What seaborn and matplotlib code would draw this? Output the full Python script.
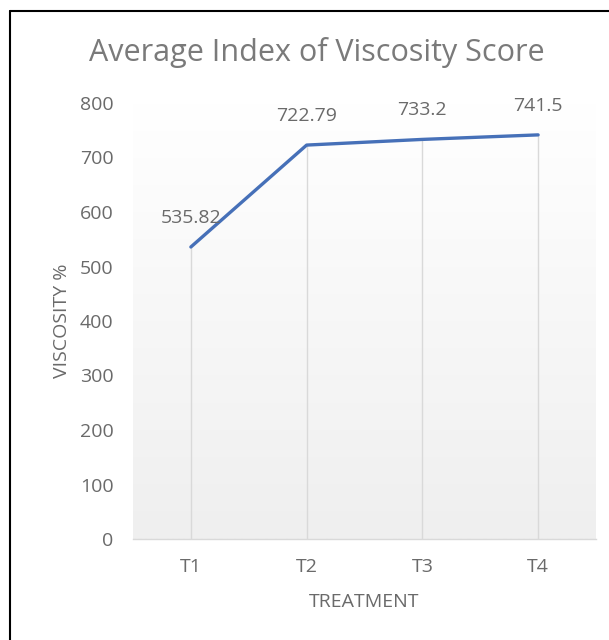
import numpy as np
import pandas as pd
import matplotlib
matplotlib.use("Agg")
import matplotlib.pyplot as plt
from matplotlib.lines import Line2D
import seaborn as sns

# --- DATA ---
treatments = ["T1", "T2", "T3", "T4"]
viscosity = [535.82, 722.79, 733.2, 741.5]
value_labels = ["535.82", "722.79", "733.2", "741.5"]
y_ticks = [0, 100, 200, 300, 400, 500, 600, 700, 800]

df = pd.DataFrame({"Treatment": treatments, "Viscosity": viscosity})

sns.set_theme(style="white")
plt.rcParams["font.family"] = ["Open Sans", "DejaVu Sans"]

TXT = "#6a6a6a"
fig = plt.figure(figsize=(6.09, 6.40), dpi=100)
ax = fig.add_axes([133 / 609, 1 - 539 / 640, (596 - 133) / 609, (539 - 103) / 640])

# gradient plot area, white at top to light gray at bottom
grad = np.linspace(1.0, 0.0, 256).reshape(-1, 1)
ax.imshow(grad, extent=[0, 1, 0, 1], transform=ax.transAxes, aspect="auto",
          cmap=matplotlib.colors.LinearSegmentedColormap.from_list("g", ["#efefef", "#ffffff"]),
          zorder=0)

x_pos = np.arange(len(treatments))
# drop lines
ax.vlines(x_pos, 0, viscosity, color="#d9d9d9", lw=1, zorder=1)

sns.lineplot(data=df, x="Treatment", y="Viscosity", ax=ax, color="#4670b8",
             lw=2.4, sort=False, zorder=3)

for x, v, lab in zip(x_pos, viscosity, value_labels):
    ax.annotate(lab, (x, v), xytext=(0, 29), textcoords="offset pixels",
                ha="center", va="center", fontsize=14, color=TXT, annotation_clip=False)

ax.set_xlim(-0.5, len(treatments) - 0.5)
ax.set_ylim(0, 800)
ax.set_yticks(y_ticks)
ax.set_yticklabels([str(t) for t in y_ticks], fontsize=14, color=TXT)
ax.set_xticks(x_pos)
ax.set_xticklabels(treatments, fontsize=14, color=TXT)
ax.tick_params(axis="both", length=0)
ax.tick_params(axis="y", pad=14)
ax.tick_params(axis="x", pad=14)

for s in ["top", "right", "left"]:
    ax.spines[s].set_visible(False)
ax.spines["bottom"].set_color("#d9d9d9")
ax.spines["bottom"].set_linewidth(1)

ax.set_xlabel("TREATMENT", fontsize=14, color=TXT, labelpad=12)
ax.set_ylabel("VISCOSITY %", fontsize=14, color=TXT, labelpad=6)

fig.text(317 / 609, 1 - 52 / 640, "Average Index of Viscosity Score",
         ha="center", va="center", fontsize=22, color="#7a7a7a")

# outer chart frame (left and top edges visible)
fig.add_artist(Line2D([10 / 609, 10 / 609], [0, 1 - 11 / 640], color="black", lw=1.5))
fig.add_artist(Line2D([10 / 609, 1], [1 - 11 / 640, 1 - 11 / 640], color="black", lw=1.5))

fig.savefig("out.png", dpi=100, facecolor="white")
